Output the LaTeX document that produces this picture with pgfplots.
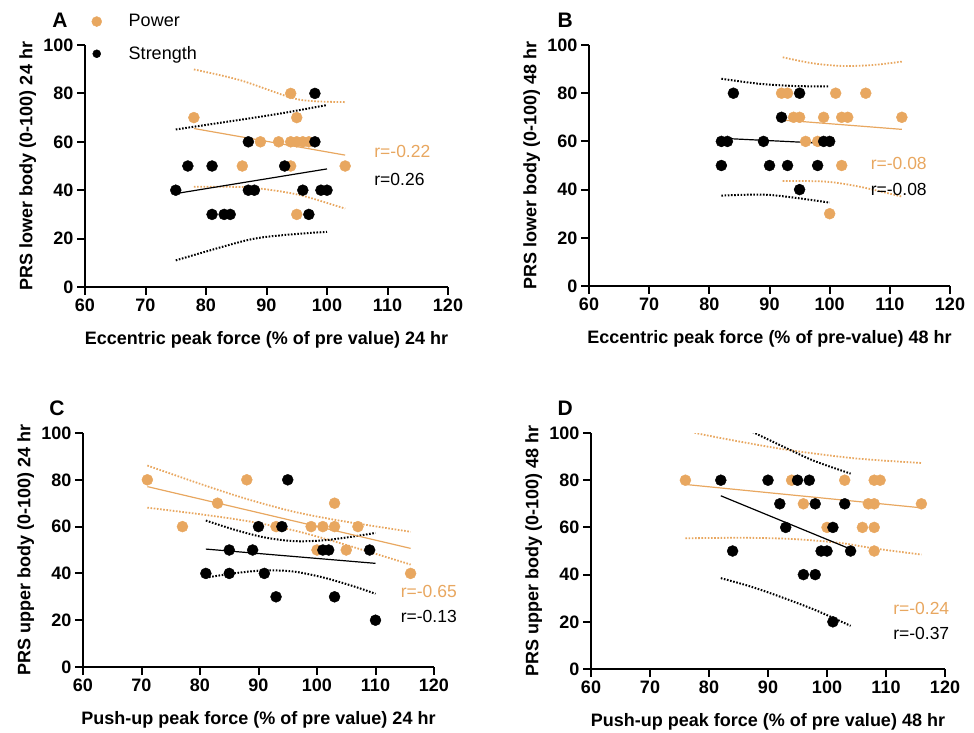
\documentclass[border=0pt]{standalone}
\usepackage{fontspec}
\setmainfont{Liberation Sans}
\usepackage{pgfplots}
\pgfplotsset{compat=1.18}
\definecolor{power}{RGB}{232,167,96}

\pgfplotsset{
  prs/.style={
    scale only axis, clip mode=individual,
    xmin=60, xmax=120, ymin=0, ymax=100,
    xtick={60,70,...,120}, ytick={0,20,...,100},
    axis lines=left, axis line style={-, line width=2pt},
    tick align=outside, major tick length=8pt,
    tick style={line width=2pt, black},
    /pgf/number format/assume math mode=true,
    ticklabel style={font=\fontsize{18}{20}\selectfont\bfseries},
    xlabel style={font=\fontsize{18}{20}\selectfont\bfseries, yshift=-13pt},
    ylabel style={font=\fontsize{18}{20}\selectfont\bfseries, inner sep=0pt, outer sep=4pt},
  },
  pw/.style={only marks, mark=*, mark size=5.5pt, color=power, forget plot},
  st/.style={only marks, mark=*, mark size=5.5pt, color=black, forget plot},
  pwfit/.style={power, line width=1.2pt, forget plot, mark=none},
  stfit/.style={black, line width=1.2pt, forget plot, mark=none},
  pwci/.style={power, line width=1.8pt, dash pattern=on 1.6pt off 1.6pt, smooth, forget plot, mark=none},
  stci/.style={black, line width=2pt, dash pattern=on 1.6pt off 1.6pt, smooth, forget plot, mark=none},
}
\tikzset{
  rlab/.style={anchor=west, inner sep=0pt, font=\fontsize{17.5}{20}\selectfont},
  panel/.style={font=\fontsize{21}{24}\selectfont\bfseries},
}

\begin{document}
\begin{tikzpicture}
\useasboundingbox (0pt,0pt) rectangle (974pt,-732pt);

% ---------------- A ----------------
\begin{axis}[prs, at={(85pt,-287pt)}, anchor=south west, width=363pt, height=242pt,
  xlabel={Eccentric peak force (\% of pre value) 24 hr},
  ylabel={PRS lower body (0-100) 24 hr},
  legend style={draw=none, fill=none, at={(axis description cs:0.007,1.143)}, anchor=north west,
    font=\fontsize{18}{20}\selectfont, row sep=14pt},
  legend cell align=left,
  legend image code/.code={\draw[#1] plot coordinates {(0pt,0pt)}; \path[draw=none] (-6pt,0pt) -- (30pt,0pt);},
]
\addlegendimage{only marks, mark=*, mark size=5pt, color=power}
\addlegendentry{Power}
\addlegendimage{only marks, mark=*, mark size=4pt, color=black}
\addlegendentry{Strength}
\addplot[pwci] coordinates {(78,89.9) (85.6,85.5) (94,78.3) (97.7,76.8) (103,76.4)};
\addplot[pwci] coordinates {(78,41.4) (86,41.3) (91,40) (96,37.7) (103,32.4)};
\addplot[stci] coordinates {(75,65.1) (86.7,69.5) (93,72) (100,75.2)};
\addplot[stci] coordinates {(75,11) (86.7,19.3) (93,21.5) (100,22.8)};
\addplot[pwfit] coordinates {(78,65.5) (103,54.5)};
\addplot[stfit] coordinates {(75,38.6) (100,48.8)};
\addplot[pw] coordinates {(78,70) (94,80) (95,70) (89,60) (92,60) (94,60) (95,60) (96,60) (97,60) (86,50) (94,50) (103,50) (95,30)};
\addplot[st] coordinates {(98,80) (87,60) (98,60) (77,50) (81,50) (93,50) (75,40) (87,40) (88,40) (96,40) (99,40) (100,40) (81,30) (83,30) (84,30) (97,30)};
\node[rlab, text=power] at (axis cs:107.8,55.9) {r=-0.22};
\node[rlab] at (axis cs:107.8,44.6) {r=0.26};
\node[panel] at (axis description cs:-0.069,1.103) {A};
\end{axis}

% ---------------- B ----------------
\begin{axis}[prs, at={(589pt,-286pt)}, anchor=south west, width=361pt, height=241pt,
  xlabel={Eccentric peak force (\% of pre-value) 48 hr},
  ylabel={PRS lower body (0-100) 48 hr},
]
\addplot[pwci] coordinates {(92.2,94.9) (97.2,92.4) (102.2,91.3) (107.2,91.7) (112,93.1)};
\addplot[pwci] coordinates {(92.2,43.6) (99.4,43.3) (105,41.2) (112,37.1)};
\addplot[stci] coordinates {(82,86) (88,84) (94,83) (100,82.8)};
\addplot[stci] coordinates {(82,37.5) (90,37.8) (100,34.6)};
\addplot[pwfit] coordinates {(92,68.9) (112,65)};
\addplot[stfit] coordinates {(82,61.3) (100,59.1)};
\addplot[pw] coordinates {(92,80) (93,80) (101,80) (106,80) (94,70) (95,70) (99,70) (102,70) (103,70) (112,70) (96,60) (98,60) (102,50) (100,30)};
\addplot[st] coordinates {(84,80) (95,80) (92,70) (82,60) (83,60) (89,60) (99,60) (100,60) (82,50) (90,50) (93,50) (98,50) (95,40)};
\node[rlab, text=power] at (axis cs:106.8,50.9) {r=-0.08};
\node[rlab] at (axis cs:106.8,40.2) {r=-0.08};
\node[panel] at (axis description cs:-0.066,1.104) {B};
\end{axis}

% ---------------- C ----------------
\begin{axis}[prs, at={(83pt,-667pt)}, anchor=south west, width=351pt, height=234pt,
  xlabel={Push-up peak force (\% of pre value) 24 hr},
  ylabel={PRS upper body (0-100) 24 hr},
]
\addplot[pwci] coordinates {(71,86.1) (80,78.3) (88,71.8) (96,66.4) (104,62.5) (116,57.8)};
\addplot[pwci] coordinates {(71,68.1) (80,65.3) (88,62.4) (96,58.4) (104,52.9) (116,43.8)};
\addplot[stci] coordinates {(81,62.6) (86,58.6) (91,55.4) (96,53.8) (101,54.1) (106,55.7) (110,57.3)};
\addplot[stci] coordinates {(81,38.2) (86,40.1) (91,41.3) (96,40.8) (101,38.3) (106,34.7) (110,31.3)};
\addplot[pwfit] coordinates {(71,77.1) (116,50.7)};
\addplot[stfit] coordinates {(81,50.4) (110,44.3)};
\addplot[pw] coordinates {(71,80) (88,80) (83,70) (103,70) (77,60) (93,60) (99,60) (101,60) (103,60) (107,60) (100,50) (105,50) (116,40)};
\addplot[st] coordinates {(95,80) (90,60) (94,60) (85,50) (89,50) (101,50) (102,50) (109,50) (81,40) (85,40) (91,40) (93,30) (103,30) (110,20)};
\node[rlab, text=power] at (axis cs:114.3,32.1) {r=-0.65};
\node[rlab] at (axis cs:114.3,21.4) {r=-0.13};
\node[panel] at (axis description cs:-0.074,1.107) {C};
\end{axis}

% ---------------- D ----------------
\begin{axis}[prs, at={(591pt,-669pt)}, anchor=south west, width=354pt, height=236pt,
  xlabel={Push-up peak force (\% of pre value) 48 hr},
  ylabel={PRS upper body (0-100) 48 hr},
]
\addplot[pwci] coordinates {(76,101.5) (78.3,99.7) (86,96) (94,92.6) (105,89.2) (116,87.3)};
\addplot[pwci] coordinates {(76,55.4) (86,55.6) (94,55.1) (102,53.5) (108,51.1) (116,48.5)};
\addplot[stci] coordinates {(82,107) (88,99.7) (93.6,93) (98,88) (104,82.8)};
\addplot[stci] coordinates {(82,38.5) (87,35) (92,30.7) (98,25) (104,18.3)};
\addplot[pwfit] coordinates {(76,78.2) (116,68.3)};
\addplot[stfit] coordinates {(82,73.4) (104,50.8)};
\addplot[pw] coordinates {(76,80) (94,80) (103,80) (108,80) (109,80) (96,70) (107,70) (108,70) (116,70) (100,60) (106,60) (108,60) (108,50)};
\addplot[st] coordinates {(82,80) (90,80) (95,80) (97,80) (92,70) (98,70) (103,70) (93,60) (101,60) (84,50) (99,50) (100,50) (104,50) (96,40) (98,40) (101,20)};
\node[rlab, text=power] at (axis cs:111.2,25.5) {r=-0.24};
\node[rlab] at (axis cs:111.2,15.2) {r=-0.37};
\node[panel] at (axis description cs:-0.073,1.106) {D};
\end{axis}
\end{tikzpicture}
\end{document}
